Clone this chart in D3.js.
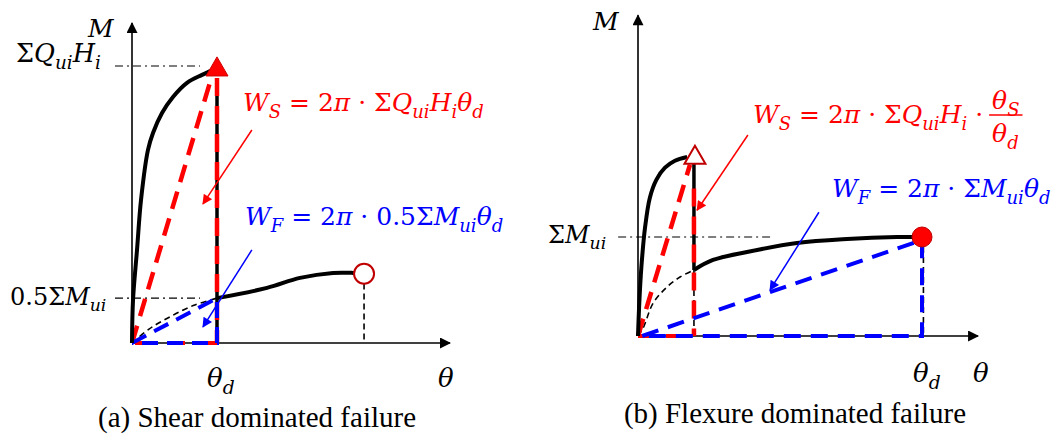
<!DOCTYPE html>
<html><head><meta charset="utf-8">
<script src="https://cdn.jsdelivr.net/npm/d3@7"></script>
<style>html,body{margin:0;padding:0;background:#fff;}svg{display:block;}</style>
</head><body>
<svg id="chart" width="1054" height="438"></svg>
<script>
// ---------- DATA (theta, M) ----------
// Panel (a): theta normalised by theta_d, M normalised by ΣQuiHi
const shearCurveA = [[0,0],[0.012,0.155],[0.059,0.336],[0.106,0.516],[0.188,0.697],[0.247,0.758],[0.353,0.830],[0.482,0.888],[0.647,0.939],[0.824,0.968],[0.96,0.987]];
const flexPreA   = [[0,0],[0.2,0.05],[0.45,0.095],[0.72,0.135],[1,0.162]];
const flexCurveA = [[1,0.162],[1.588,0.199],[1.976,0.235],[2.365,0.253],[2.6,0.253],[2.73,0.25]];
const keyA = {thetaD:1, peak:1, halfMui:0.162, peakMarkM:0.987, ultTheta:2.73, ultM:0.25, diagEnd:[0.94,0.964], axisMax:[3.74,1.155]};
// Panel (b): theta normalised by theta_d, M normalised by ΣMui
const shearCurveB = [[0,0],[0.004,0.3],[0.012,0.7],[0.025,1.1],[0.042,1.4],[0.065,1.58],[0.095,1.70],[0.13,1.77],[0.173,1.808]];
const flexPreB   = [[0,0],[0.018,0.08],[0.053,0.33],[0.102,0.495],[0.148,0.596],[0.197,0.667]];
const flexCurveB = [[0.197,0.667],[0.264,0.768],[0.384,0.848],[0.560,0.939],[0.736,0.980],[0.912,1.0],[1,1]];
const keyB = {thetaS:0.197, thetaD:1, mui:1, peakMarkM:1.80, vTop:1.74, flexStart:0.667, diagEnd:[0.183,1.73], axisMax:[1.197,3.24]};
// Labels
const captions = ["(a) Shear dominated failure", "(b) Flexure dominated failure"];

// ---------- SETUP ----------
const svg = d3.select("#chart");
const RED = "#ff0000", BLUE = "#0000ff", DRED = "#c00000";
const MATHFONT = "DejaVu Serif";
const xA = d3.scaleLinear().domain([0,1]).range([132,217]);
const yA = d3.scaleLinear().domain([0,1]).range([343,66]);
const xB = d3.scaleLinear().domain([0,1]).range([638,922]);
const yB = d3.scaleLinear().domain([0,1]).range([336,237]);

const defs = svg.append("defs");
function marker(id, color, w, h){
  defs.append("marker").attr("id",id).attr("viewBox","0 0 10 10").attr("refX",9).attr("refY",5)
    .attr("markerUnits","userSpaceOnUse").attr("markerWidth",w).attr("markerHeight",h).attr("orient","auto")
    .append("path").attr("d","M0,0L10,5L0,10Z").attr("fill",color);
}
marker("axArrow","#000",13,11);
marker("redArrow",RED,14,10);
marker("blueArrow",BLUE,14,10);

const smooth = (x,y)=>d3.line().x(d=>x(d[0])).y(d=>y(d[1])).curve(d3.curveCatmullRom.alpha(0.5));
const straight = (x,y)=>d3.line().x(d=>x(d[0])).y(d=>y(d[1]));

function mathText(g, x, y, segs, color, size){
  const t = g.append("text").attr("x",x).attr("y",y).attr("fill",color)
    .attr("font-family",MATHFONT).attr("font-size",size);
  let shifted = false;
  segs.forEach(([s,k])=>{
    const ts = t.append("tspan").text(s);
    if(k==="s"){
      ts.attr("font-size",size*0.72).attr("font-style","italic");
      if(!shifted){ ts.attr("dy",size*0.27); shifted=true; }
    } else {
      ts.attr("font-style", k==="i" ? "italic" : "normal");
      if(shifted){ ts.attr("dy",-size*0.27); shifted=false; }
    }
  });
  return t;
}

function drawAxes(g, x, y, key){
  g.append("line").attr("x1",x(0)).attr("y1",y(0)).attr("x2",x(key.axisMax[0])).attr("y2",y(0))
    .attr("stroke","#000").attr("stroke-width",1.6).attr("marker-end","url(#axArrow)");
  g.append("line").attr("x1",x(0)).attr("y1",y(0)).attr("x2",x(0)).attr("y2",y(key.axisMax[1]))
    .attr("stroke","#000").attr("stroke-width",1.6).attr("marker-end","url(#axArrow)");
}
function caption(g, x, y, s){
  g.append("text").attr("x",x).attr("y",y).attr("text-anchor","middle")
    .attr("font-family","Liberation Serif").attr("font-size",29).text(s);
}

// ================= PANEL A =================
(function(){
  const g = svg.append("g"), L = straight(xA,yA);
  drawAxes(g,xA,yA,keyA);
  [keyA.peak, keyA.halfMui].forEach(m=>{
    g.append("path").attr("d",L([[-0.2,m],[0.8,m]])).attr("fill","none").attr("stroke","#000")
      .attr("stroke-width",1.2).attr("stroke-dasharray","8,4,2,4");
  });
  g.append("path").attr("d",smooth(xA,yA)(flexPreA)).attr("fill","none").attr("stroke","#000")
    .attr("stroke-width",1.6).attr("stroke-dasharray","6,4");
  g.append("path").attr("d",L([[keyA.ultTheta,keyA.ultM-0.035],[keyA.ultTheta,0]])).attr("fill","none")
    .attr("stroke","#000").attr("stroke-width",1.6).attr("stroke-dasharray","6,4");
  g.append("path").attr("d",L([[keyA.thetaD,keyA.peakMarkM-0.03],[keyA.thetaD,0]])).attr("fill","none")
    .attr("stroke","#000").attr("stroke-width",3.5);
  g.append("path").attr("d",L([[0,0],keyA.diagEnd])).attr("fill","none").attr("stroke",RED)
    .attr("stroke-width",4.5).attr("stroke-dasharray","18,10");
  g.append("path").attr("d",L([[keyA.thetaD,keyA.peakMarkM-0.03],[keyA.thetaD,0]])).attr("fill","none").attr("stroke",RED)
    .attr("stroke-width",4.5).attr("stroke-dasharray","18,10");
  g.append("path").attr("d",L([[0,0],[keyA.thetaD,0]])).attr("fill","none").attr("stroke",RED)
    .attr("stroke-width",4).attr("stroke-dasharray","18,14").attr("stroke-dashoffset",-35);
  g.append("path").attr("d",L([[0,0],[keyA.thetaD,keyA.halfMui],[keyA.thetaD,0],[0,0]])).attr("fill","none")
    .attr("stroke",BLUE).attr("stroke-width",4).attr("stroke-dasharray","16,9");
  g.append("path").attr("d",smooth(xA,yA)(shearCurveA)).attr("fill","none").attr("stroke","#000").attr("stroke-width",4);
  g.append("path").attr("d",smooth(xA,yA)(flexCurveA)).attr("fill","none").attr("stroke","#000").attr("stroke-width",4);
  g.append("path").attr("d",d3.symbol(d3.symbolTriangle,210)()).attr("transform",`translate(${xA(keyA.thetaD)},${yA(keyA.peakMarkM)})`)
    .attr("fill",RED).attr("stroke","#d00000").attr("stroke-width",1);
  g.append("circle").attr("cx",xA(keyA.ultTheta)).attr("cy",yA(keyA.ultM)).attr("r",10)
    .attr("fill","#fff").attr("stroke",DRED).attr("stroke-width",2);
  g.append("path").attr("d",L([[1.41,0.769],[0.835,0.502]])).attr("stroke",RED).attr("stroke-width",1.5).attr("marker-end","url(#redArrow)");
  g.append("path").attr("d",L([[1.41,0.336],[0.835,0.058]])).attr("stroke",BLUE).attr("stroke-width",1.5).attr("marker-end","url(#blueArrow)");
  mathText(g,243,111,[["W","i"],["S","s"],[" = 2","r"],["π","i"],[" · Σ","r"],["Q","i"],["ui","s"],["H","i"],["i","s"],["θ","i"],["d","s"]],RED,25);
  mathText(g,245,225,[["W","i"],["F","s"],[" = 2","r"],["π","i"],[" · 0.5Σ","r"],["M","i"],["ui","s"],["θ","i"],["d","s"]],BLUE,25);
  mathText(g,88,37,[["M","i"]],"#000",25);
  mathText(g,16,62,[["Σ","r"],["Q","i"],["ui","s"],["H","i"],["i","s"]],"#000",25.5);
  mathText(g,10,305,[["0.5Σ","r"],["M","i"],["ui","s"]],"#000",24);
  mathText(g,207,387,[["θ","i"],["d","s"]],"#000",26);
  mathText(g,438,387,[["θ","i"]],"#000",26);
  caption(g,257,427,captions[0]);
})();

// ================= PANEL B =================
(function(){
  const g = svg.append("g"), L = straight(xB,yB);
  drawAxes(g,xB,yB,keyB);
  g.append("path").attr("d",L([[-0.07,keyB.mui],[0.465,keyB.mui]])).attr("fill","none").attr("stroke","#000")
    .attr("stroke-width",1.2).attr("stroke-dasharray","8,4,2,4");
  g.append("path").attr("d",smooth(xB,yB)(flexPreB)).attr("fill","none").attr("stroke","#000")
    .attr("stroke-width",1.6).attr("stroke-dasharray","6,4");
  g.append("path").attr("d",L([[keyB.thetaD+0.005,keyB.mui-0.1],[keyB.thetaD+0.005,0]])).attr("fill","none")
    .attr("stroke","#000").attr("stroke-width",1.6).attr("stroke-dasharray","6,4");
  g.append("path").attr("d",L([[keyB.thetaS,keyB.vTop],[keyB.thetaS,keyB.flexStart]])).attr("fill","none")
    .attr("stroke","#000").attr("stroke-width",3.5);
  g.append("path").attr("d",L([[keyB.thetaS,keyB.flexStart],[keyB.thetaS,0]])).attr("fill","none")
    .attr("stroke","#000").attr("stroke-width",1.6).attr("stroke-dasharray","6,4");
  g.append("path").attr("d",L([[0,0],keyB.diagEnd])).attr("fill","none").attr("stroke",RED)
    .attr("stroke-width",4.5).attr("stroke-dasharray","18,10");
  g.append("path").attr("d",L([[keyB.thetaS,keyB.vTop-0.25],[keyB.thetaS,0]])).attr("fill","none").attr("stroke",RED)
    .attr("stroke-width",4.5).attr("stroke-dasharray","18,10");
  g.append("path").attr("d",L([[0,0],[keyB.thetaS,0]])).attr("fill","none").attr("stroke",RED)
    .attr("stroke-width",4).attr("stroke-dasharray","16,12");
  g.append("path").attr("d",L([[0.015,0],[keyB.thetaD,keyB.mui*0.97],[keyB.thetaD,0],[0.015,0]])).attr("fill","none")
    .attr("stroke",BLUE).attr("stroke-width",4).attr("stroke-dasharray","17,10");
  g.append("path").attr("d",smooth(xB,yB)(shearCurveB)).attr("fill","none").attr("stroke","#000").attr("stroke-width",4);
  g.append("path").attr("d",smooth(xB,yB)(flexCurveB)).attr("fill","none").attr("stroke","#000").attr("stroke-width",4);
  g.append("path").attr("d",d3.symbol(d3.symbolTriangle,190)()).attr("transform",`translate(${xB(keyB.thetaS)+1},${yB(keyB.peakMarkM)})`)
    .attr("fill","#fff").attr("stroke",DRED).attr("stroke-width",2);
  g.append("circle").attr("cx",xB(keyB.thetaD)).attr("cy",yB(keyB.mui)).attr("r",10)
    .attr("fill",RED).attr("stroke",DRED).attr("stroke-width",1);
  g.append("path").attr("d",L([[0.387,2.03],[0.208,1.27]])).attr("stroke",RED).attr("stroke-width",1.5).attr("marker-end","url(#redArrow)");
  g.append("path").attr("d",L([[0.637,1.25],[0.465,0.465]])).attr("stroke",BLUE).attr("stroke-width",1.5).attr("marker-end","url(#blueArrow)");
  const ws = mathText(g,753,123,[["W","i"],["S","s"],[" = 2","r"],["π","i"],[" · Σ","r"],["Q","i"],["ui","s"],["H","i"],["i","s"],[" ·","r"]],RED,25);
  const fx = 753 + ws.node().getComputedTextLength() + 6;
  const num = mathText(g,fx+3,109,[["θ","i"],["S","s"]],RED,25);
  const den = mathText(g,fx+3,142,[["θ","i"],["d","s"]],RED,25);
  const fw = Math.max(num.node().getComputedTextLength(), den.node().getComputedTextLength()) + 6;
  g.append("line").attr("x1",fx).attr("x2",fx+fw).attr("y1",115).attr("y2",115).attr("stroke",RED).attr("stroke-width",1.3);
  mathText(g,832,197,[["W","i"],["F","s"],[" = 2","r"],["π","i"],[" · Σ","r"],["M","i"],["ui","s"],["θ","i"],["d","s"]],BLUE,25);
  mathText(g,593,30,[["M","i"]],"#000",25);
  mathText(g,548,243,[["Σ","r"],["M","i"],["ui","s"]],"#000",24);
  mathText(g,913,382,[["θ","i"],["d","s"]],"#000",26);
  mathText(g,973,382,[["θ","i"]],"#000",26);
  caption(g,795,423,captions[1]);
})();
</script>
</body></html>
